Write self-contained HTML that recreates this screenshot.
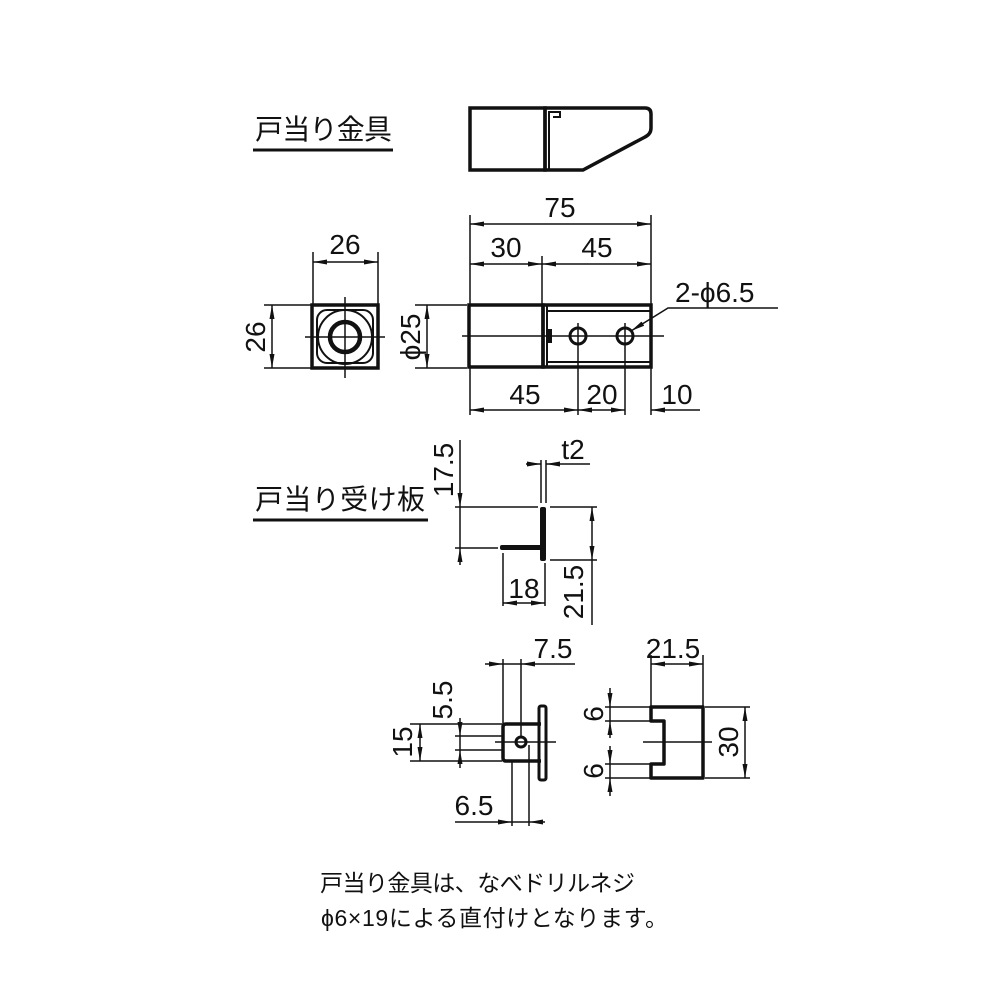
<!DOCTYPE html>
<html><head><meta charset="utf-8"><style>
html,body{margin:0;padding:0;background:#fff;}
svg{display:block;}
text{font-family:"Liberation Sans","Noto Sans CJK JP",sans-serif;fill:#111;}
.d{font-size:28px;}
.j{font-size:28px;}
.n{font-size:23px;}
</style></head><body>
<svg width="1000" height="1000" viewBox="0 0 1000 1000" xmlns="http://www.w3.org/2000/svg">
<defs>
<marker id="a" markerWidth="14" markerHeight="6" refX="14" refY="3" orient="auto-start-reverse" markerUnits="userSpaceOnUse">
<path d="M0,0.5 L14,3 L0,5.5 Z" fill="#111"/></marker>
</defs>
<g stroke="#111" fill="none">
<line x1="253" y1="150" x2="393" y2="150" stroke-width="3"/>
<line x1="253" y1="520" x2="428" y2="520" stroke-width="3"/>

<rect x="470" y="108" width="75" height="62" stroke-width="3.5"/>
<path d="M545,170 L545,108 L645,108 Q651,108 651,114 L651,128 Q651,134 645,137 L583,170 Z" stroke-width="3.5"/>
<path d="M549,170 L549,112 L560,112 L560,117 L553,117" stroke-width="2"/>

<rect x="312" y="305" width="66" height="63" stroke-width="3.5"/>
<rect x="317" y="310" width="56" height="53" rx="10" stroke-width="2"/>
<circle cx="345" cy="337" r="27" stroke-width="2"/>
<circle cx="345" cy="337" r="15" stroke-width="4.5"/>
<line x1="305" y1="337" x2="385" y2="337" stroke-width="1.5"/>
<line x1="345" y1="297" x2="345" y2="378" stroke-width="1.5"/>
<line x1="313" y1="252" x2="313" y2="305" stroke-width="1.5"/>
<line x1="378" y1="252" x2="378" y2="305" stroke-width="1.5"/>
<line x1="313" y1="262" x2="378" y2="262" stroke-width="1.5" marker-start="url(#a)" marker-end="url(#a)"/>
<line x1="264" y1="305" x2="312" y2="305" stroke-width="1.5"/>
<line x1="264" y1="368" x2="312" y2="368" stroke-width="1.5"/>
<line x1="272" y1="305" x2="272" y2="368" stroke-width="1.5" marker-start="url(#a)" marker-end="url(#a)"/>

<rect x="469" y="305" width="74" height="62" stroke-width="3.5"/>
<rect x="543" y="305" width="108" height="62" stroke-width="3.5"/>
<line x1="547" y1="311" x2="651" y2="311" stroke-width="2"/>
<line x1="547" y1="362" x2="651" y2="362" stroke-width="2"/>
<line x1="547" y1="305" x2="547" y2="367" stroke-width="2"/>
<rect x="548" y="329" width="4" height="14" fill="#111" stroke="none"/>
<circle cx="578" cy="336" r="8" stroke-width="3"/>
<circle cx="625" cy="336" r="8" stroke-width="3"/>
<line x1="462" y1="336" x2="664" y2="336" stroke-width="1.5"/>
<line x1="578" y1="323" x2="578" y2="415" stroke-width="1.5"/>
<line x1="625" y1="323" x2="625" y2="415" stroke-width="1.5"/>
<line x1="470" y1="215" x2="470" y2="305" stroke-width="1.5"/>
<line x1="651" y1="215" x2="651" y2="305" stroke-width="1.5"/>
<line x1="542" y1="256" x2="542" y2="305" stroke-width="1.5"/>
<line x1="470" y1="224" x2="651" y2="224" stroke-width="1.5" marker-start="url(#a)" marker-end="url(#a)"/>
<line x1="470" y1="264" x2="542" y2="264" stroke-width="1.5" marker-start="url(#a)" marker-end="url(#a)"/>
<line x1="542" y1="264" x2="651" y2="264" stroke-width="1.5" marker-start="url(#a)" marker-end="url(#a)"/>
<line x1="470" y1="368" x2="470" y2="415" stroke-width="1.5"/>
<line x1="651" y1="368" x2="651" y2="415" stroke-width="1.5"/>
<line x1="470" y1="410" x2="578" y2="410" stroke-width="1.5" marker-start="url(#a)" marker-end="url(#a)"/>
<line x1="578" y1="410" x2="625" y2="410" stroke-width="1.5" marker-start="url(#a)" marker-end="url(#a)"/>
<line x1="651" y1="410" x2="700" y2="410" stroke-width="1.5" marker-start="url(#a)"/>
<line x1="415" y1="305" x2="467" y2="305" stroke-width="1.5"/>
<line x1="415" y1="368" x2="467" y2="368" stroke-width="1.5"/>
<line x1="427" y1="305" x2="427" y2="368" stroke-width="1.5" marker-start="url(#a)" marker-end="url(#a)"/>
<polyline points="778,308 668,308 631,331" stroke-width="1.5" marker-end="url(#a)"/>

<rect x="540" y="507" width="6" height="54" fill="#111" stroke="none" rx="2"/>
<rect x="500" y="545" width="42" height="5" fill="#111" stroke="none" rx="2"/>
<line x1="460" y1="440" x2="460" y2="507" stroke-width="1.5" marker-end="url(#a)"/>
<line x1="460" y1="565" x2="460" y2="548" stroke-width="1.5" marker-end="url(#a)"/>
<line x1="460" y1="507" x2="460" y2="548" stroke-width="1.5"/>
<line x1="455" y1="507" x2="538" y2="507" stroke-width="1.5"/>
<line x1="455" y1="548" x2="498" y2="548" stroke-width="1.5"/>
<line x1="541" y1="460" x2="541" y2="503" stroke-width="1.5"/>
<line x1="546" y1="460" x2="546" y2="503" stroke-width="1.5"/>
<line x1="526" y1="464" x2="541" y2="464" stroke-width="1.5" marker-end="url(#a)"/>
<line x1="590" y1="464" x2="546" y2="464" stroke-width="1.5" marker-end="url(#a)"/>
<line x1="550" y1="507" x2="597" y2="507" stroke-width="1.5"/>
<line x1="550" y1="560" x2="597" y2="560" stroke-width="1.5"/>
<line x1="592" y1="507" x2="592" y2="560" stroke-width="1.5" marker-start="url(#a)" marker-end="url(#a)"/>
<line x1="592" y1="560" x2="592" y2="625" stroke-width="1.5"/>
<line x1="503" y1="553" x2="503" y2="606" stroke-width="1.5"/>
<line x1="545" y1="563" x2="545" y2="606" stroke-width="1.5"/>
<line x1="503" y1="603" x2="545" y2="603" stroke-width="1.5" marker-start="url(#a)" marker-end="url(#a)"/>

<path d="M528,724 L506,724 Q503,724 503,727 L503,758 Q503,761 506,761 L541,761" stroke-width="3.5"/>
<line x1="528" y1="724" x2="541" y2="724" stroke-width="3.5"/>
<rect x="539" y="706" width="7" height="74" rx="2" stroke-width="3"/>
<circle cx="521" cy="742" r="5" stroke-width="3"/>
<line x1="495" y1="742" x2="556" y2="742" stroke-width="1.5"/>
<line x1="503" y1="659" x2="503" y2="724" stroke-width="1.5"/>
<line x1="521" y1="659" x2="521" y2="736" stroke-width="1.5"/>
<line x1="485" y1="664" x2="503" y2="664" stroke-width="1.5" marker-end="url(#a)"/>
<line x1="503" y1="664" x2="521" y2="664" stroke-width="1.5"/>
<line x1="575" y1="664" x2="521" y2="664" stroke-width="1.5" marker-end="url(#a)"/>
<line x1="455" y1="736" x2="503" y2="736" stroke-width="1.5"/>
<line x1="455" y1="750" x2="503" y2="750" stroke-width="1.5"/>
<line x1="460" y1="718" x2="460" y2="736" stroke-width="1.5" marker-end="url(#a)"/>
<line x1="460" y1="768" x2="460" y2="750" stroke-width="1.5" marker-end="url(#a)"/>
<line x1="460" y1="736" x2="460" y2="750" stroke-width="1.5"/>
<line x1="410" y1="724" x2="502" y2="724" stroke-width="1.5"/>
<line x1="410" y1="761" x2="502" y2="761" stroke-width="1.5"/>
<line x1="420" y1="724" x2="420" y2="761" stroke-width="1.5" marker-start="url(#a)" marker-end="url(#a)"/>
<line x1="512" y1="761" x2="512" y2="826" stroke-width="1.5"/>
<line x1="529" y1="745" x2="529" y2="826" stroke-width="1.5"/>
<line x1="455" y1="822" x2="512" y2="822" stroke-width="1.5" marker-end="url(#a)"/>
<line x1="545" y1="822" x2="529" y2="822" stroke-width="1.5" marker-end="url(#a)"/>
<line x1="512" y1="822" x2="529" y2="822" stroke-width="1.5"/>

<path d="M651,707 L703,707 L703,778 L651,778 L651,764 L664,764 L664,721 L651,721 Z" stroke-width="3.5" stroke-linejoin="round"/>
<line x1="643" y1="742" x2="712" y2="742" stroke-width="1.5"/>
<line x1="651" y1="655" x2="651" y2="706" stroke-width="1.5"/>
<line x1="703" y1="655" x2="703" y2="706" stroke-width="1.5"/>
<line x1="651" y1="664" x2="703" y2="664" stroke-width="1.5" marker-start="url(#a)" marker-end="url(#a)"/>
<line x1="705" y1="707" x2="750" y2="707" stroke-width="1.5"/>
<line x1="705" y1="778" x2="750" y2="778" stroke-width="1.5"/>
<line x1="745" y1="707" x2="745" y2="778" stroke-width="1.5" marker-start="url(#a)" marker-end="url(#a)"/>
<line x1="605" y1="707" x2="650" y2="707" stroke-width="1.5"/>
<line x1="605" y1="721" x2="650" y2="721" stroke-width="1.5"/>
<line x1="605" y1="764" x2="650" y2="764" stroke-width="1.5"/>
<line x1="605" y1="778" x2="650" y2="778" stroke-width="1.5"/>
<line x1="610" y1="688" x2="610" y2="707" stroke-width="1.5" marker-end="url(#a)"/>
<line x1="610" y1="738" x2="610" y2="721" stroke-width="1.5" marker-end="url(#a)"/>
<line x1="610" y1="707" x2="610" y2="721" stroke-width="1.5"/>
<line x1="610" y1="746" x2="610" y2="764" stroke-width="1.5" marker-end="url(#a)"/>
<line x1="610" y1="796" x2="610" y2="778" stroke-width="1.5" marker-end="url(#a)"/>
<line x1="610" y1="764" x2="610" y2="778" stroke-width="1.5"/>
</g>

<text x="255" y="139" class="j" textLength="137">戸当り金具</text>
<text x="255" y="509" class="j" textLength="170">戸当り受け板</text>

<text x="560" y="217" class="d" text-anchor="middle">75</text>
<text x="506" y="257" class="d" text-anchor="middle">30</text>
<text x="597" y="257" class="d" text-anchor="middle">45</text>
<text x="345" y="254" class="d" text-anchor="middle">26</text>
<text class="d" text-anchor="middle" transform="translate(265,337) rotate(-90)">26</text>
<text class="d" text-anchor="middle" transform="translate(420,337) rotate(-90)">ϕ25</text>
<text x="525" y="404" class="d" text-anchor="middle">45</text>
<text x="602" y="404" class="d" text-anchor="middle">20</text>
<text x="677" y="404" class="d" text-anchor="middle">10</text>
<text x="675" y="302" class="d">2-ϕ6.5</text>

<text class="d" text-anchor="middle" transform="translate(453,470) rotate(-90)">17.5</text>
<text x="573" y="459" class="d" text-anchor="middle">t2</text>
<text class="d" text-anchor="middle" transform="translate(583,592) rotate(-90)">21.5</text>
<text x="524" y="598" class="d" text-anchor="middle">18</text>

<text x="553" y="658" class="d" text-anchor="middle">7.5</text>
<text class="d" text-anchor="middle" transform="translate(452,700) rotate(-90)">5.5</text>
<text class="d" text-anchor="middle" transform="translate(412,742) rotate(-90)">15</text>
<text x="474" y="815" class="d" text-anchor="middle">6.5</text>
<text x="673" y="658" class="d" text-anchor="middle">21.5</text>
<text class="d" text-anchor="middle" transform="translate(738,742) rotate(-90)">30</text>
<text class="d" text-anchor="middle" transform="translate(603,714) rotate(-90)">6</text>
<text class="d" text-anchor="middle" transform="translate(603,771) rotate(-90)">6</text>

<text x="320" y="891" class="n" textLength="315">戸当り金具は、なべドリルネジ</text>
<text x="321" y="926" class="n" textLength="347">ϕ6×19による直付けとなります。</text>
</svg>
</body></html>
